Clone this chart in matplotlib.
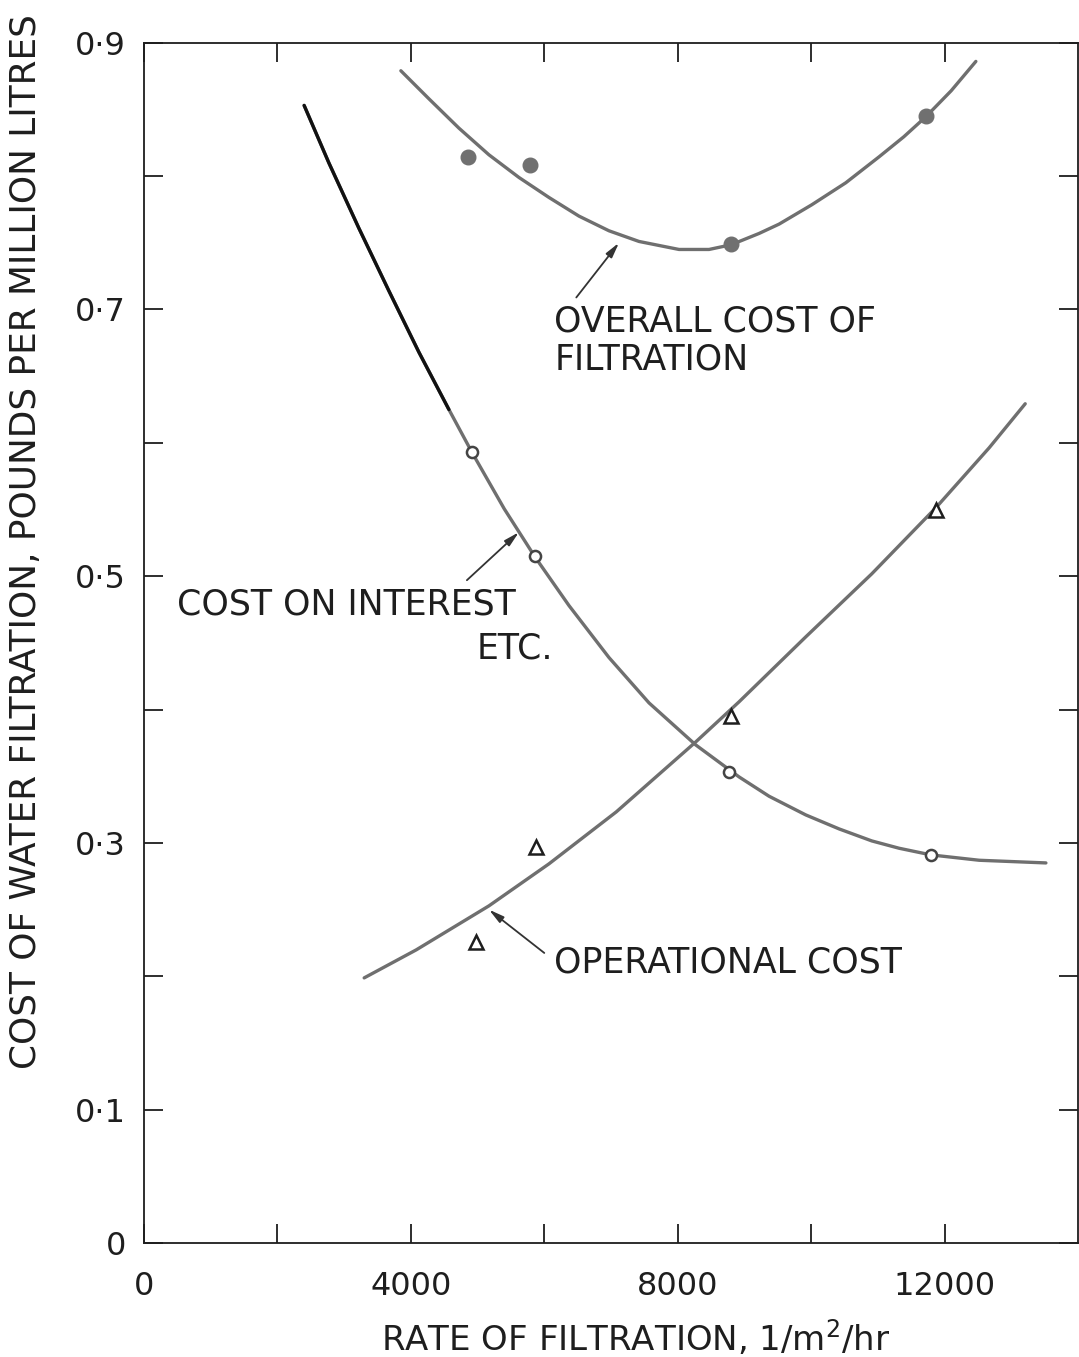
import matplotlib
matplotlib.use("Agg")
import matplotlib.pyplot as plt

# points (rate in l/m2/hr, cost in pounds per million litres)
overall_x = [4860, 5790, 8800, 11720]
overall_y = [0.814, 0.808, 0.749, 0.845]

interest_x = [4920, 5860, 8770, 11800]
interest_y = [0.593, 0.515, 0.353, 0.291]

operational_x = [4980, 5880, 8800, 11870]
operational_y = [0.226, 0.297, 0.395, 0.550]

# hand drawn curves traced along their length
overall_curve_x = [3850, 4270, 4720, 5170, 5620, 6070, 6520, 6970, 7420, 8020, 8470,
                   8800, 9220, 9520, 10010, 10520, 11020, 11390, 11720, 12100, 12470]
overall_curve_y = [0.879, 0.858, 0.836, 0.816, 0.799, 0.784, 0.770, 0.759, 0.751, 0.745,
                   0.745, 0.7485, 0.757, 0.764, 0.7785, 0.795, 0.8145, 0.8295, 0.8445,
                   0.864, 0.886]

interest_curve_x = [2400, 2770, 3220, 3670, 4120, 4570, 4920, 5400, 5860, 6370, 6970,
                    7570, 8270, 8920, 9370, 9920, 10420, 10910, 11320, 11800, 12520, 13520]
interest_curve_y = [0.853, 0.810, 0.761, 0.714, 0.668, 0.625, 0.5925, 0.5505, 0.5145,
                    0.478, 0.439, 0.405, 0.3735, 0.3495, 0.335, 0.321, 0.3105, 0.3015,
                    0.296, 0.291, 0.287, 0.285]

operational_curve_x = [3300, 4080, 5170, 6070, 7080, 8270, 8920, 9920, 10910, 11870,
                       12670, 13210]
operational_curve_y = [0.1988, 0.2198, 0.2528, 0.2843, 0.3233, 0.3757, 0.4058, 0.4545,
                       0.5018, 0.5513, 0.5963, 0.6293]

x_ticks = [0, 4000, 8000, 12000]
x_tick_labels = ["0", "4000", "8000", "12000"]
y_ticks = [0, 0.1, 0.3, 0.5, 0.7, 0.9]
y_tick_labels = ["0", "0\u00b71", "0\u00b73", "0\u00b75", "0\u00b77", "0\u00b79"]

ink = "#1e1e1e"
grey = "#6f6f6f"

plt.rcParams["font.family"] = ["DejaVu Sans"]

fig = plt.figure(figsize=(10.79, 13.57), dpi=100)
ax = fig.add_axes([0.1335, 0.084, 0.8655, 0.8845])

line_kw = dict(lw=2.4, solid_capstyle="round", solid_joinstyle="round")

# curves
ax.plot(overall_curve_x, overall_curve_y, color=grey, **line_kw)
ax.plot(interest_curve_x, interest_curve_y, color=grey, **line_kw)
ax.plot(interest_curve_x[:6], interest_curve_y[:6], color="#111111", **line_kw)
ax.plot(operational_curve_x, operational_curve_y, color=grey, **line_kw)

# measured points
ax.plot(overall_x, overall_y, "o", ms=10.5, color="#707070", zorder=5)
ax.plot(interest_x, interest_y, "o", ms=8, mfc="white", mec="#444444", mew=1.8, zorder=5)
ax.plot(operational_x, operational_y, "^", ms=10, mfc="white", mec=ink, mew=1.8, zorder=5)

# labels with arrows
arrow = dict(arrowstyle="-|>,head_length=0.9,head_width=0.22", color="#333333", lw=1.3,
             shrinkA=0, shrinkB=0)
ax.annotate("", xy=(7120, 0.750), xytext=(6480, 0.709), arrowprops=arrow)
ax.text(6150, 0.677, "OVERALL COST OF\nFILTRATION", fontsize=25, color=ink,
        ha="left", va="center", linespacing=1.15)

ax.annotate("", xy=(5620, 0.533), xytext=(4840, 0.497), arrowprops=arrow)
ax.text(495, 0.4785, "COST ON INTEREST", fontsize=25, color=ink, ha="left", va="center")
ax.text(4990, 0.446, "ETC.", fontsize=25, color=ink, ha="left", va="center")

ax.annotate("", xy=(5170, 0.250), xytext=(6000, 0.2175), arrowprops=arrow)
ax.text(6150, 0.21, "OPERATIONAL COST", fontsize=25, color=ink, ha="left", va="center")

# axes
ax.set_xlim(0, 14000)
ax.set_ylim(0, 0.9)
ax.set_xticks(range(0, 14000, 2000))
ax.set_xticklabels([x_tick_labels[x_ticks.index(v)] if v in x_ticks else ""
                    for v in range(0, 14000, 2000)])
ax.set_yticks([i / 10 for i in range(10)])
ax.set_yticklabels([y_tick_labels[y_ticks.index(round(i / 10, 1))]
                    if round(i / 10, 1) in y_ticks else "" for i in range(10)])

ax.tick_params(axis="both", direction="in", length=14, width=1.3, colors=ink,
               labelsize=23, top=True, right=True)
ax.tick_params(axis="x", pad=20)
ax.tick_params(axis="y", pad=13)
for s in ax.spines.values():
    s.set_linewidth(1.3)
    s.set_color(ink)

ax.set_xlabel("RATE OF FILTRATION, 1/m$^2$/hr", fontsize=24.5, color=ink)
ax.xaxis.set_label_coords(0.527, -0.062)
ax.set_ylabel("COST OF WATER FILTRATION, POUNDS PER MILLION LITRES", fontsize=25.8,
              color=ink)
ax.yaxis.set_label_coords(-0.108, 0.584)

fig.savefig("out.png", dpi=100)
